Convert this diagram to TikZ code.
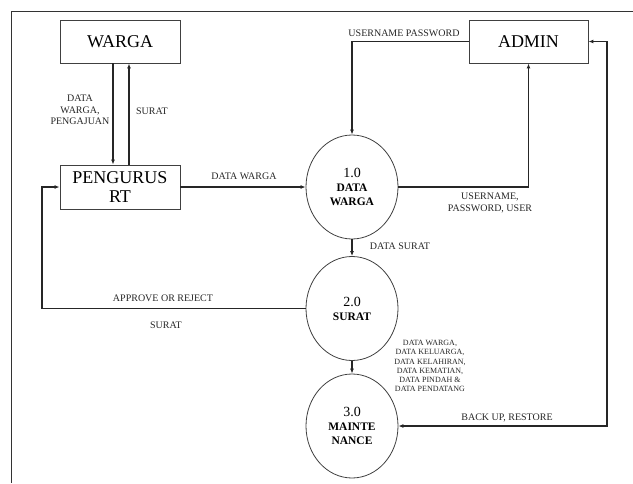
\documentclass[tikz,border=0pt]{standalone}
\usepackage{fontspec}
\setmainfont{Liberation Serif}
\usetikzlibrary{arrows.meta,shapes.geometric}
\begin{document}
\begin{tikzpicture}[x=1pt,y=-1pt,
  entity/.style={draw=black!75, line width=0.9pt, minimum width=120pt, minimum height=43pt,
    font=\fontsize{18}{19}\selectfont, align=center, inner sep=0pt},
  proc/.style={draw=black!75, line width=0.8pt, ellipse, minimum width=92pt, minimum height=104pt,
    align=center, inner sep=0pt, font=\bfseries\fontsize{11.5}{14}\selectfont},
  flow/.style={line width=1.3pt, draw=black!85, -{Latex[length=5pt,width=4pt]}},
  biflow/.style={line width=1.3pt, draw=black!85, {Latex[length=5pt,width=4pt]}-{Latex[length=5pt,width=4pt]}},
  lbl/.style={font=\fontsize{10}{11.5}\selectfont, align=center, text=black!85, inner sep=0pt},
  small/.style={font=\fontsize{8}{9.2}\selectfont, align=center, text=black!85, inner sep=0pt},
  num/.style={font=\mdseries\fontsize{14}{16}\selectfont}
]
\useasboundingbox (0,0) rectangle (633,483);

% page frame
\draw[line width=0.8pt, black!80] (633,11) -- (11,11) -- (11,483);

% external entities
\node[entity] (warga) at (120,41.5) {WARGA};
\node[entity, minimum height=44pt] (pengurus) at (120,187) {PENGURUS\\RT};
\node[entity, minimum width=119pt] (admin) at (528.5,41.5) {ADMIN};

% processes
\node[proc] (p1) at (352,187) {{\mdseries\fontsize{14}{16}\selectfont 1.0}\\DATA\\WARGA};
\node[proc] (p2) at (352,308.5) {{\mdseries\fontsize{14}{16}\selectfont 2.0}\\SURAT};
\node[proc] (p3) at (352,426) {{\mdseries\fontsize{14}{16}\selectfont 3.0}\\MAINTE\\NANCE};

% bend points
\coordinate (rtcorner) at (42,308.5);
\coordinate (bkcorner) at (607,41.5);

% flows
\draw[flow] ([xshift=-7pt]warga.south) -- ([xshift=-7pt]pengurus.north);
\draw[flow] ([xshift=9pt]pengurus.north) -- ([xshift=9pt]warga.south);
\draw[flow] (pengurus.east) -- (p1.west);
\draw[flow] (admin.west) -| (p1.north);
\draw[flow] (p1.east) -| (admin.south);
\draw[flow] (p1.south) -- (p2.north);
\draw[flow] (p2.west) -- (rtcorner) |- (pengurus.west);
\draw[flow] (p2.south) -- (p3.north);
\draw[biflow] (admin.east) -- (bkcorner) |- (p3.east);

% flow labels
\node[lbl] (l1) at (80,110) {DATA\\WARGA,\\PENGAJUAN};
\node[lbl] (l2) at (152,111) {SURAT};
\node[lbl] (l3) at (244,176) {DATA WARGA};
\node[lbl] (l4) at (404,33) {USERNAME PASSWORD};
\node[lbl] (l5) at (490,203) {USERNAME,\\PASSWORD, USER};
\node[lbl] (l6) at (400,246) {DATA SURAT};
\node[lbl] (l7) at (163,298) {APPROVE OR REJECT};
\node[lbl] (l8) at (166,325) {SURAT};
\node[small] (l9) at (430,366) {DATA WARGA,\\DATA KELUARGA,\\DATA KELAHIRAN,\\DATA KEMATIAN,\\DATA PINDAH \&\\DATA PENDATANG};
\node[lbl] (l10) at (507,418) {BACK UP, RESTORE};
\end{tikzpicture}
\end{document}
